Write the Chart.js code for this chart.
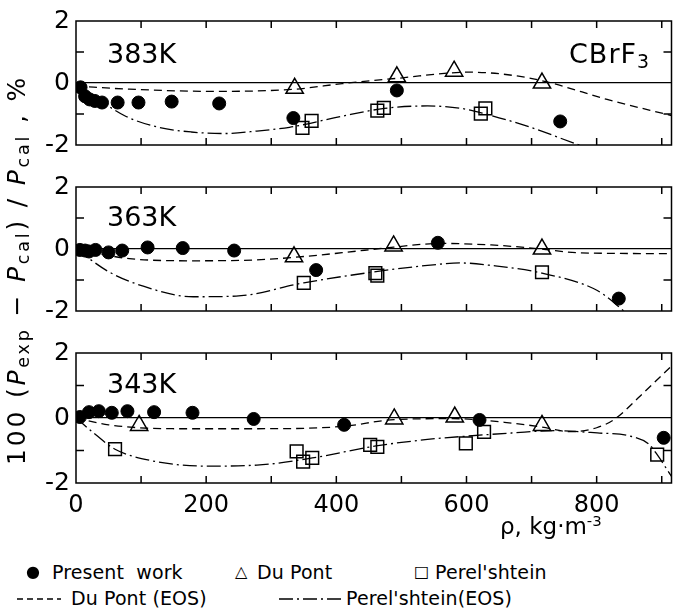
<!DOCTYPE html>
<html>
<head>
<meta charset="utf-8">
<script src="https://cdn.jsdelivr.net/npm/chart.js@4.4.1/dist/chart.umd.min.js"></script>
<style>
  body { margin: 0; background: #fff; }
  #wrap { position: relative; width: 683px; height: 614px; overflow: hidden; color: #000;
    font-family: 'DejaVu Sans', sans-serif; }
  #wrap canvas { position: absolute; left: 0; }
  .txt { position: absolute; white-space: nowrap; line-height: 1; }
  .txt sub { font-size: 70%; vertical-align: -0.25em; }
  .txt sup { font-size: 65%; vertical-align: 0.55em; }
  .panel { font-size: 27px; }
  #ytitle { font-size: 25px; letter-spacing: 2.8px; left: 18px; top: 270px; transform: translate(-50%, -50%) rotate(-90deg); }
  #xtitle { font-size: 23px; left: 500px; top: 514px; }
  .leg { font-size: 19px; letter-spacing: 0.1px; }
  .sym { font-size: 16px; }
  svg.ln { position: absolute; }
</style>
</head>
<body>
<div id="wrap">
  <canvas id="c383" width="683" height="166" style="top:0px"></canvas>
  <canvas id="c363" width="683" height="166" style="top:166px"></canvas>
  <canvas id="c343" width="683" height="200" style="top:332px"></canvas>

  <div class="txt panel" style="left:107px; top:40px">383K</div>
  <div class="txt panel" style="left:569px; top:40px; letter-spacing:1px">CBrF<sub>3</sub></div>
  <div class="txt panel" style="left:107px; top:203px">363K</div>
  <div class="txt panel" style="left:107px; top:370px">343K</div>

  <div class="txt" id="ytitle">100 (<i>P</i><sub>exp</sub> − <i>P</i><sub>cal</sub>) / <i>P</i><sub>cal</sub> , %</div>
  <div class="txt" id="xtitle">ρ, kg·m<sup>-3</sup></div>

  <div class="txt sym" style="left:26px; top:564px">●</div>
  <div class="txt leg" style="left:52px; top:563px">Present&nbsp; work</div>
  <div class="txt sym" style="left:235px; top:564px">△</div>
  <div class="txt leg" style="left:257px; top:563px">Du Pont</div>
  <div class="txt sym" style="left:414px; top:564px">□</div>
  <div class="txt leg" style="left:435px; top:563px">Perel'shtein</div>
  <svg class="ln" style="left:17px; top:590px" width="44" height="16"><line x1="0" y1="9" x2="44" y2="9" stroke="#000" stroke-width="1.3" stroke-dasharray="6,4"/></svg>
  <div class="txt leg" style="left:71px; top:589px">Du Pont (EOS)</div>
  <svg class="ln" style="left:279px; top:590px" width="62" height="16"><line x1="0" y1="9" x2="62" y2="9" stroke="#000" stroke-width="1.6" stroke-dasharray="14,4,2,4"/></svg>
  <div class="txt leg" style="left:346px; top:589px">Perel'shtein(EOS)</div>
</div>

<script>
  // axis settings
  const xMax = 915;
  const yTickLabels = [-2, 0, 2];
  const xTickLabels = [0, 200, 400, 600, 800];

  // 383 K
  const present383X = [7, 14, 21, 29, 40, 64, 96, 147, 220, 334, 493, 744];
  const present383Y = [-0.14, -0.43, -0.53, -0.58, -0.63, -0.63, -0.63, -0.6, -0.66, -1.13, -0.24, -1.24];
  const dupont383X = [336, 493, 581, 716];
  const dupont383Y = [-0.17, 0.2, 0.38, 0.0];
  const perel383X = [348, 362, 463, 473, 622, 629];
  const perel383Y = [-1.45, -1.22, -0.89, -0.8, -0.99, -0.82];
  const dupontEos383X = [0, 82, 213, 336, 409, 493, 605, 680, 730, 816, 915];
  const dupontEos383Y = [-0.1, -0.2, -0.27, -0.2, -0.02, 0.15, 0.35, 0.22, 0.0, -0.53, -1.05];
  const perelEos383X = [0, 41, 77, 127, 177, 227, 278, 328, 348, 409, 474, 540, 592, 624, 697, 769, 800];
  const perelEos383Y = [0, -0.62, -1.08, -1.43, -1.58, -1.63, -1.55, -1.43, -1.35, -1.07, -0.82, -0.74, -0.82, -0.97, -1.42, -1.97, -2.2];

  // 363 K
  const present363X = [6, 14, 20, 30, 50, 71, 110, 164, 243, 369, 556, 834];
  const present363Y = [-0.03, -0.05, -0.08, -0.03, -0.11, -0.05, 0.05, 0.03, -0.05, -0.68, 0.2, -1.6];
  const dupont363X = [335, 488, 716];
  const dupont363Y = [-0.25, 0.1, 0.0];
  const perel363X = [350, 460, 463, 716];
  const perel363Y = [-1.09, -0.78, -0.86, -0.75];
  const dupontEos363X = [0, 82, 180, 278, 335, 409, 488, 560, 638, 716, 769, 915];
  const dupontEos363Y = [0, -0.31, -0.38, -0.35, -0.27, -0.12, 0.06, 0.18, 0.13, 0.0, -0.12, -0.15];
  const perelEos363X = [0, 50, 102, 180, 246, 350, 461, 540, 592, 638, 716, 801, 845];
  const perelEos363Y = [0, -0.73, -1.19, -1.54, -1.52, -1.09, -0.73, -0.53, -0.45, -0.53, -0.78, -1.34, -2.05];

  // 343 K
  const present343X = [6, 20, 35, 55, 79, 120, 179, 273, 412, 620, 903];
  const present343Y = [0.03, 0.18, 0.21, 0.16, 0.21, 0.18, 0.16, -0.03, -0.21, -0.06, -0.61];
  const dupont343X = [97, 489, 582, 716];
  const dupont343Y = [-0.23, -0.03, 0.03, -0.23];
  const perel343X = [60, 339, 349, 363, 452, 463, 599, 627, 893];
  const perel343Y = [-0.96, -1.03, -1.34, -1.23, -0.83, -0.89, -0.78, -0.43, -1.13];
  const dupontEos343X = [0, 50, 148, 278, 409, 489, 579, 671, 716, 760, 800, 828, 867, 915];
  const dupontEos343Y = [0, -0.21, -0.33, -0.33, -0.26, -0.05, -0.02, -0.16, -0.28, -0.42, -0.3, -0.03, 0.68, 1.6];
  const perelEos343X = [0, 30, 60, 115, 200, 278, 363, 461, 540, 599, 671, 736, 801, 850, 880, 893, 915];
  const perelEos343Y = [0, -0.51, -0.96, -1.31, -1.48, -1.45, -1.23, -0.86, -0.66, -0.56, -0.46, -0.39, -0.46, -0.55, -0.8, -1.13, -1.8];

  const pts = (xs, ys) => xs.map((x, i) => ({ x: x, y: ys[i] }));

  // frame + inside ticks on all four sides
  const framePlugin = {
    id: 'frame',
    afterDatasetsDraw(chart) {
      const { ctx, chartArea: a, scales: { x, y } } = chart;
      ctx.save();
      ctx.strokeStyle = '#000';
      ctx.lineWidth = 1.5;
      ctx.strokeRect(a.left, a.top, a.right - a.left, a.bottom - a.top);
      ctx.beginPath();
      for (let v = 100; v <= xMax; v += 100) {
        const px = x.getPixelForValue(v);
        ctx.moveTo(px, a.bottom); ctx.lineTo(px, a.bottom - 7);
        ctx.moveTo(px, a.top); ctx.lineTo(px, a.top + 7);
      }
      [-1, 1].forEach(v => {
        const py = y.getPixelForValue(v);
        ctx.moveTo(a.left, py); ctx.lineTo(a.left + 8, py);
        ctx.moveTo(a.right, py); ctx.lineTo(a.right - 8, py);
      });
      ctx.stroke();
      ctx.restore();
    }
  };

  function makePanel(id, present, dupont, perel, dupontEos, perelEos, showX) {
    new Chart(document.getElementById(id), {
      type: 'scatter',
      data: {
        datasets: [
          { label: 'Present work', data: present, pointStyle: 'circle', pointRadius: 6.5,
            backgroundColor: '#000', borderColor: '#000', borderWidth: 1 },
          { label: 'Du Pont', data: dupont, pointStyle: 'triangle', pointRadius: 10,
            backgroundColor: 'rgba(255,255,255,0)', borderColor: '#000', borderWidth: 1.5 },
          { label: "Perel'shtein", data: perel, pointStyle: 'rect', pointRadius: 9,
            backgroundColor: 'rgba(255,255,255,0)', borderColor: '#000', borderWidth: 1.5 },
          { label: 'Du Pont (EOS)', data: dupontEos, showLine: true, pointRadius: 0,
            borderColor: '#000', borderWidth: 1.3, borderDash: [8, 5], cubicInterpolationMode: 'monotone' },
          { label: "Perel'shtein(EOS)", data: perelEos, showLine: true, pointRadius: 0,
            borderColor: '#000', borderWidth: 1.3, borderDash: [14, 4, 2, 4], cubicInterpolationMode: 'monotone' }
        ]
      },
      options: {
        responsive: false,
        animation: false,
        layout: { padding: { top: 16, bottom: showX ? 9 : 17, left: 0, right: 1 } },
        plugins: { legend: { display: false }, tooltip: { enabled: false } },
        scales: {
          x: {
            type: 'linear', min: 0, max: xMax, display: showX,
            grid: { display: false, drawTicks: false },
            border: { display: false },
            ticks: {
              stepSize: 100, padding: 8, color: '#000', maxRotation: 0, autoSkip: false,
              font: { family: "'DejaVu Sans', sans-serif", size: 24 },
              callback: v => xTickLabels.includes(v) ? String(v) : ''
            },
            afterFit: s => { s.height = showX ? 40 : 0; }
          },
          y: {
            min: -2, max: 2,
            grid: { drawTicks: false, lineWidth: 1.2,
              color: c => c.tick && c.tick.value === 0 ? '#000' : 'rgba(0,0,0,0)' },
            border: { display: false },
            ticks: {
              stepSize: 1, padding: 6, color: '#000',
              font: { family: "'DejaVu Sans', sans-serif", size: 25 },
              callback: v => yTickLabels.includes(v) ? String(v) : ''
            },
            afterFit: s => { s.width = 76; }
          }
        }
      },
      plugins: [framePlugin]
    });
  }

  makePanel('c383', pts(present383X, present383Y), pts(dupont383X, dupont383Y), pts(perel383X, perel383Y),
    pts(dupontEos383X, dupontEos383Y), pts(perelEos383X, perelEos383Y), false);
  makePanel('c363', pts(present363X, present363Y), pts(dupont363X, dupont363Y), pts(perel363X, perel363Y),
    pts(dupontEos363X, dupontEos363Y), pts(perelEos363X, perelEos363Y), false);
  makePanel('c343', pts(present343X, present343Y), pts(dupont343X, dupont343Y), pts(perel343X, perel343Y),
    pts(dupontEos343X, dupontEos343Y), pts(perelEos343X, perelEos343Y), true);
</script>
</body>
</html>
